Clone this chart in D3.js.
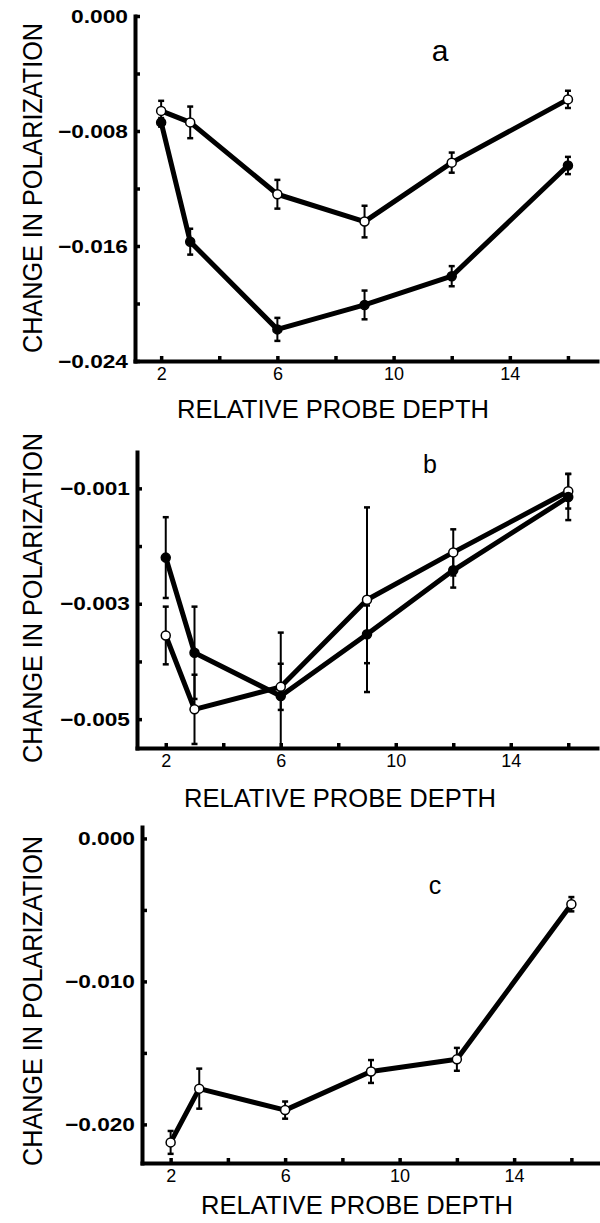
<!DOCTYPE html>
<html>
<head>
<meta charset="utf-8">
<script src="https://cdn.jsdelivr.net/npm/d3@7"></script>
<style>
  html, body { margin: 0; padding: 0; background: #fff; }
  svg { display: block; }
  text { font-family: "Liberation Sans", Arial, sans-serif; fill: #000; }
</style>
</head>
<body>
<div id="chart"></div>
<script>
// relative probe depth of each measurement
const depths = [2, 3, 6, 9, 12, 16];

// panel a
const aOpen      = [-0.0066, -0.0074, -0.0124, -0.0143, -0.0102, -0.0058];
const aOpenErr   = [0.0007, 0.0011, 0.0010, 0.0011, 0.0007, 0.0006];
const aFilled    = [-0.0074, -0.0157, -0.0218, -0.0201, -0.0181, -0.0104];
const aFilledErr = [0.0003, 0.0009, 0.0008, 0.0010, 0.0007, 0.0006];
const aTicks      = [0, -0.004, -0.008, -0.012, -0.016, -0.020, -0.024];
const aTickLabels = ["0.000", "", "\u22120.008", "", "\u22120.016", "", "\u22120.024"];

// panel b
const bOpen      = [-0.00355, -0.00483, -0.00444, -0.00293, -0.00211, -0.00105];
const bOpenErr   = [0.0005, 0.0006, 0.0004, 0.0016, 0.0004, 0.0003];
const bFilled    = [-0.0022, -0.00385, -0.0046, -0.00353, -0.00242, -0.00115];
const bFilledErr = [0.0007, 0.0008, 0.0011, 0.0005, 0.0003, 0.0004];
const bTicks      = [-0.001, -0.002, -0.003, -0.004, -0.005];
const bTickLabels = ["\u22120.001", "", "\u22120.003", "", "\u22120.005"];

// panel c
const cOpen    = [-0.02126, -0.0175, -0.0190, -0.0163, -0.01545, -0.0046];
const cOpenErr = [0.0008, 0.0014, 0.0006, 0.0008, 0.0008, 0.0005];
const cTicks      = [0, -0.005, -0.010, -0.015, -0.020];
const cTickLabels = ["0.000", "", "\u22120.010", "", "\u22120.020"];

// shared x ticks
const xTicks      = [2, 4, 6, 8, 10, 12, 14, 16];
const xTickLabels = ["2", "", "6", "", "10", "", "14", ""];

const yTitle = "CHANGE IN POLARIZATION";
const xTitle = "RELATIVE PROBE DEPTH";

const W = 600, H = 1223;
const svg = d3.select("#chart").append("svg")
  .attr("width", W)
  .attr("height", H);

svg.append("rect").attr("width", W).attr("height", H).attr("fill", "#fff");

function drawPanel(p) {
  const x = d3.scaleLinear().domain(p.xDomain).range([p.left, p.right]);
  const y = d3.scaleLinear().domain(p.yDomain).range([p.bottom, p.top]);
  const g = svg.append("g");

  // y axis
  const yAxis = g.append("g")
    .attr("transform", `translate(${p.left},0)`)
    .call(d3.axisLeft(y)
      .tickValues(p.yTicks)
      .tickFormat((d, i) => p.yTickLabels[i])
      .tickSize(-5)
      .tickSizeOuter(0)
      .tickPadding(7));

  // x axis
  const xAxis = g.append("g")
    .attr("transform", `translate(0,${p.bottom})`)
    .call(d3.axisBottom(x)
      .tickValues(xTicks)
      .tickFormat((d, i) => xTickLabels[i])
      .tickSize(-5)
      .tickSizeOuter(0)
      .tickPadding(6));

  [yAxis, xAxis].forEach(a => {
    a.select(".domain").attr("stroke", "#000").attr("stroke-width", 4).attr("stroke-linecap", "square");
    a.selectAll(".tick line").attr("stroke", "#000").attr("stroke-width", 3.5);
  });

  yAxis.selectAll(".tick text")
    .attr("font-size", 19)
    .attr("font-weight", "bold")
    .attr("fill", "#000")
    .each(function () {
      const t = d3.select(this).text();
      if (t) d3.select(this).attr("textLength", t.length === 5 ? 57 : 70)
        .attr("lengthAdjust", "spacingAndGlyphs");
    });

  xAxis.selectAll(".tick text")
    .attr("font-size", 18)
    .attr("fill", "#000");

  // axis titles
  g.append("text")
    .attr("transform", `translate(42,${p.yTitleY}) rotate(-90)`)
    .attr("text-anchor", "middle")
    .attr("font-size", 27)
    .attr("textLength", 330)
    .attr("lengthAdjust", "spacingAndGlyphs")
    .text(yTitle);

  g.append("text")
    .attr("x", p.xTitleX)
    .attr("y", p.xTitleY)
    .attr("text-anchor", "middle")
    .attr("font-size", 25)
    .attr("textLength", 312)
    .attr("lengthAdjust", "spacingAndGlyphs")
    .text(xTitle);

  // panel letter
  g.append("text")
    .attr("x", p.tagX)
    .attr("y", p.tagY)
    .attr("text-anchor", "middle")
    .attr("font-size", p.tagSize)
    .text(p.tag);

  const line = d3.line()
    .x(d => x(d.depth))
    .y(d => y(d.value));

  p.series.forEach(s => {
    const pts = depths.map((d, i) => ({ depth: d, value: s.values[i], err: s.errors[i] }));

    g.append("path")
      .datum(pts)
      .attr("fill", "none")
      .attr("stroke", "#000")
      .attr("stroke-width", 5)
      .attr("stroke-linejoin", "round")
      .attr("d", line);

    // error bars (cut at the x axis)
    const eb = g.append("g").selectAll("g").data(pts).join("g");
    eb.append("line")
      .attr("x1", d => x(d.depth)).attr("x2", d => x(d.depth))
      .attr("y1", d => y(d.value + d.err))
      .attr("y2", d => Math.min(y(d.value - d.err), p.bottom))
      .attr("stroke", "#000")
      .attr("stroke-width", 2);
    eb.append("line")
      .attr("x1", d => x(d.depth) - 3).attr("x2", d => x(d.depth) + 3)
      .attr("y1", d => y(d.value + d.err)).attr("y2", d => y(d.value + d.err))
      .attr("stroke", "#000").attr("stroke-width", 2.5);
    eb.filter(d => y(d.value - d.err) < p.bottom - 2).append("line")
      .attr("x1", d => x(d.depth) - 3).attr("x2", d => x(d.depth) + 3)
      .attr("y1", d => y(d.value - d.err)).attr("y2", d => y(d.value - d.err))
      .attr("stroke", "#000").attr("stroke-width", 2.5);

    s.pts = pts;
  });

  // markers on top
  p.series.forEach(s => {
    g.append("g").selectAll("circle")
      .data(s.pts)
      .join("circle")
      .attr("cx", d => x(d.depth))
      .attr("cy", d => y(d.value))
      .attr("r", 4.5)
      .attr("fill", s.filled ? "#000" : "#fff")
      .attr("stroke", "#000")
      .attr("stroke-width", 1.5);
  });
}

drawPanel({
  xDomain: [1.1, 17], yDomain: [-0.024, 0],
  left: 135, right: 597, top: 16, bottom: 361,
  yTicks: aTicks, yTickLabels: aTickLabels,
  yTitleY: 188, xTitleX: 333, xTitleY: 418,
  tag: "a", tagX: 440, tagY: 61, tagSize: 30,
  series: [
    { values: aOpen, errors: aOpenErr, filled: false },
    { values: aFilled, errors: aFilledErr, filled: true }
  ]
});

drawPanel({
  xDomain: [1.0, 17], yDomain: [-0.0055, -0.00037],
  left: 137, right: 597, top: 452, bottom: 748,
  yTicks: bTicks, yTickLabels: bTickLabels,
  yTitleY: 598, xTitleX: 340, xTitleY: 807,
  tag: "b", tagX: 430, tagY: 473, tagSize: 25,
  series: [
    { values: bOpen, errors: bOpenErr, filled: false },
    { values: bFilled, errors: bFilledErr, filled: true }
  ]
});

drawPanel({
  xDomain: [1.0, 17], yDomain: [-0.0227, 0.0008],
  left: 142, right: 600, top: 827, bottom: 1163,
  yTicks: cTicks, yTickLabels: cTickLabels,
  yTitleY: 1001, xTitleX: 357, xTitleY: 1214,
  tag: "c", tagX: 435, tagY: 894, tagSize: 25,
  series: [
    { values: cOpen, errors: cOpenErr, filled: false }
  ]
});
</script>
</body>
</html>
